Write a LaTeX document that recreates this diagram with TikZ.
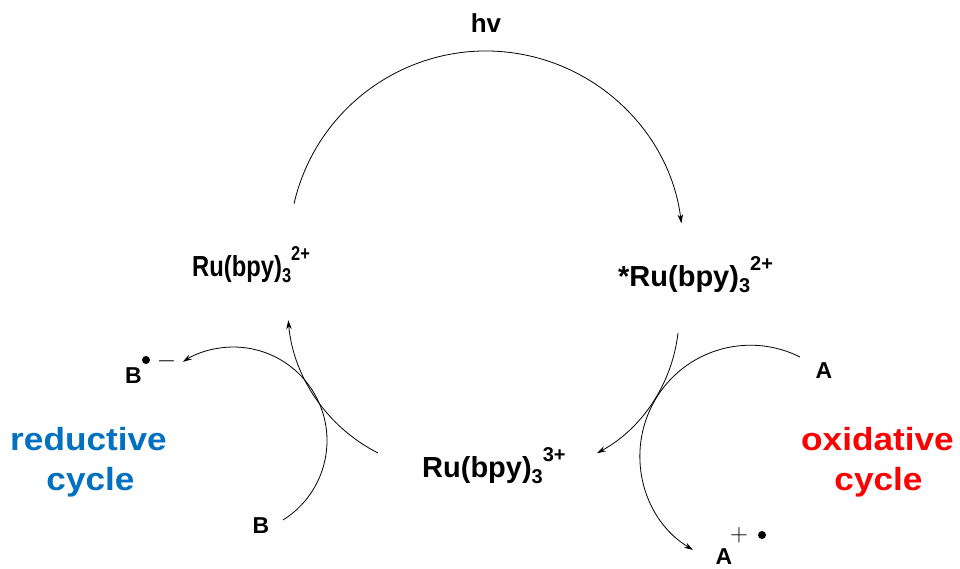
\documentclass[tikz,border=0pt]{standalone}
\usepackage{graphicx}
\usepackage{fontspec}
\setmainfont{Liberation Sans}
\usetikzlibrary{arrows.meta}
\definecolor{redcyc}{RGB}{255,0,0}
\definecolor{bluecyc}{RGB}{0,112,192}
\newcommand\fsz[1]{\fontsize{#1}{#1}\selectfont}
\newcommand\ruion[1]{Ru(bpy)\raisebox{-6pt}{\fsz{20}3}\raisebox{16pt}{\fsz{20}#1}}
\begin{document}
\begin{tikzpicture}[x=1pt,y=1pt,
  lbl/.style={inner sep=0, font=\bfseries\fsz{29}},
  spec/.style={inner sep=0, font=\bfseries\fsz{23}},
  cyc/.style={inner sep=0, font=\bfseries\fsz{32}},
  arr/.style={line width=0.8pt, -{Stealth[length=9pt,width=5.5pt]}},
  rad/.style={circle, fill=black, inner sep=0, minimum size=8pt},
  chg/.style={inner sep=0, font=\fsz{31}}]
\useasboundingbox (0,0) rectangle (960,568);
% labels
\node[lbl, anchor=base] (hv) at (486,535) {\fsz{26}hv};
\node[lbl, anchor=base west] (ru2) at (192,291) {\scalebox{0.82}[1]{\ruion{2+}}};
\node[lbl, anchor=base west] (ru2s) at (618,281) {*\ruion{2+}};
\node[lbl, anchor=base west] (ru3) at (422,91) {\ruion{3+}};
% species
\node[spec, anchor=base] (A) at (824,190) {A};
\node[spec, anchor=base] (Aox) at (724,4) {A};
\node[chg] (Aplus) at (739,33) {$+$};
\node[rad] (Adot) at (762,33) {};
\node[spec, anchor=base west] (Bred) at (125,185) {B};
\node[rad] (Bdot) at (146,208) {};
\node[chg] (Bminus) at (166.5,207) {$-$};
\node[spec, anchor=base] (B) at (261,35) {B};
% cycle names
\node[cyc, text=bluecyc, anchor=base] (redA) at (88.5,118) {\scalebox{1.1}[1]{reductive}};
\node[cyc, text=bluecyc, anchor=base] (redB) at (90.5,78) {\scalebox{1.1}[1]{cycle}};
\node[cyc, text=redcyc, anchor=base] (oxA) at (877.5,118) {\scalebox{1.1}[1]{oxidative}};
\node[cyc, text=redcyc, anchor=base] (oxB) at (878.5,78) {\scalebox{1.1}[1]{cycle}};
% arc start points
\coordinate (ts) at (294,364.3);
\coordinate (ls) at (378,115);
\coordinate (rs) at (678,235);
\coordinate (bs) at (283,48);
\coordinate (as) at (800,211);
% arrows
\draw[arr] (ts) arc[start angle=167, end angle=7.2, radius=197pt];
\draw[arr] (ls) arc[start angle=243.1, end angle=185, radius=165pt];
\draw[arr] (rs) arc[start angle=-6.6, end angle=-61.4, radius=157.5pt];
\draw[arr] (bs) arc[start angle=-58, end angle=122.7, radius=93.6pt];
\draw[arr] (as) arc[start angle=63.3, end angle=238.7, radius=110.4pt];
\end{tikzpicture}
\end{document}
